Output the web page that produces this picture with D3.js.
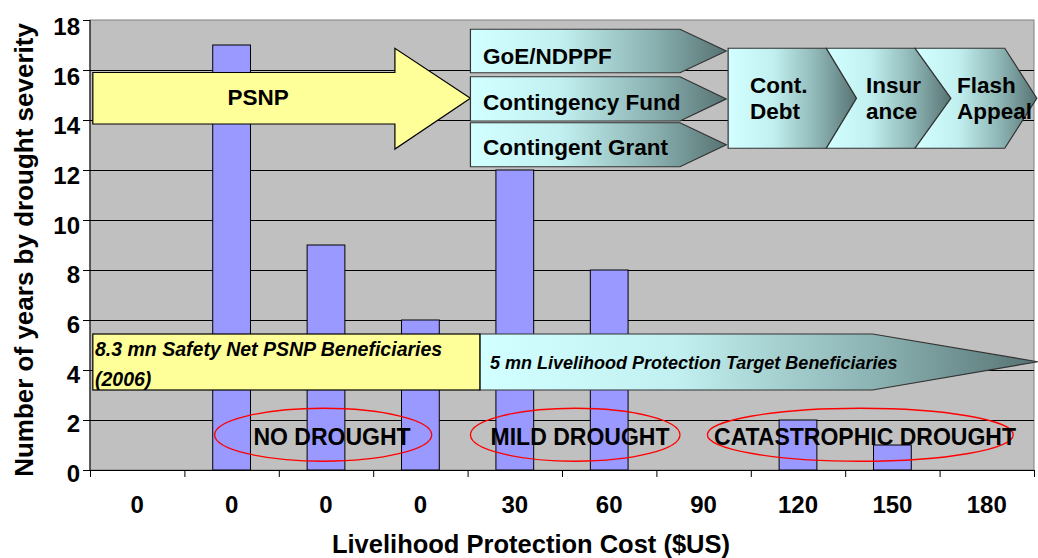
<!DOCTYPE html>
<html><head><meta charset="utf-8">
<script src="https://cdn.jsdelivr.net/npm/d3@7"></script>
<style>
html,body{margin:0;padding:0;background:#fff;}
text{font-family:"Liberation Sans",Arial,sans-serif;font-weight:bold;fill:#000;}
</style></head>
<body>
<svg id="chart" width="1038" height="558"></svg>
<script>
// ---- data ----
const categories = ["0","0","0","0","30","60","90","120","150","180"];
const yearsByDrought = [0,17,9,6,12,8,0,2,1,0];
const yTicks = [0,2,4,6,8,10,12,14,16,18];
const yTitle = "Number of years by drought severity";
const xTitle = "Livelihood Protection Cost ($US)";
const flowLabels = ["GoE/NDPPF","Contingency Fund","Contingent Grant"];
const chevronLabels = [["Cont.","Debt"],["Insur","ance"],["Flash","Appeal"]];
const severityLabels = ["NO DROUGHT","MILD DROUGHT","CATASTROPHIC DROUGHT"];

const svg = d3.select("#chart");
const L=90,R=1034,T=20,B=470;
const x = d3.scaleBand().domain(d3.range(categories.length)).range([L,R]).padding(0);
const xu = d3.scaleLinear().domain([0,categories.length]).range([L,R]); // category units
const y = d3.scaleLinear().domain([0,18]).range([B,T]);

// defs / gradients
const defs = svg.append("defs");
function grad(id){
  const g = defs.append("linearGradient").attr("id",id).attr("x1","0").attr("x2","1").attr("y1","0").attr("y2","0");
  [[0,"#d2ffff"],[0.35,"#c2f0f0"],[0.7,"#8db4b4"],[1,"#577373"]].forEach(s=>g.append("stop").attr("offset",s[0]).attr("stop-color",s[1]));
}
grad("cy");

// plot background
svg.append("rect").attr("x",L).attr("y",T).attr("width",R-L).attr("height",B-T).attr("fill","#c0c0c0").attr("stroke","#808080").attr("stroke-width",1);

// gridlines
svg.append("g").selectAll("line").data(yTicks.filter(d=>d>0 && d<18)).join("line")
  .attr("x1",L).attr("x2",R).attr("y1",d=>y(d)+0.5).attr("y2",d=>y(d)+0.5).attr("stroke","#000").attr("stroke-width",1);

// bars
const bw = x.bandwidth()*0.4;
svg.append("g").selectAll("rect").data(yearsByDrought).join("rect")
  .attr("x",(d,i)=>x(i)+(x.bandwidth()-bw)/2).attr("width",bw)
  .attr("y",d=>y(d)).attr("height",d=>y(0)-y(d))
  .attr("fill","#9999ff").attr("stroke","#000").attr("stroke-width",1)
  .style("display",d=>d>0?null:"none");

// axes
const yAxis = svg.append("g").attr("transform",`translate(${L},0)`);
yAxis.append("line").attr("x1",0).attr("x2",0).attr("y1",T).attr("y2",B).attr("stroke","#000");
yAxis.selectAll(".t").data(yTicks).join("line").attr("x1",-7).attr("x2",0).attr("y1",d=>y(d)+0.5).attr("y2",d=>y(d)+0.5).attr("stroke","#000");
yAxis.selectAll("text").data(yTicks).join("text").attr("x",-10).attr("y",d=>y(d)+12 + (d/18)*3)
  .attr("text-anchor","end").style("font-size","24px").text(d=>d);

const xAxis = svg.append("g");
xAxis.append("line").attr("x1",L).attr("x2",R).attr("y1",B+0.5).attr("y2",B+0.5).attr("stroke","#000");
xAxis.selectAll("line.t").data(d3.range(categories.length+1)).join("line").attr("class","t")
  .attr("x1",d=>xu(d)+0.5).attr("x2",d=>xu(d)+0.5).attr("y1",B).attr("y2",B+7).attr("stroke","#000");
xAxis.selectAll("text").data(categories).join("text")
  .attr("x",(d,i)=>x(i)+x.bandwidth()/2).attr("y",513).attr("text-anchor","middle").style("font-size","24px").text(d=>d);

svg.append("text").attr("transform",`translate(33,${(T+B)/2+5}) rotate(-90)`).attr("text-anchor","middle").style("font-size","26px").text(yTitle);
svg.append("text").attr("x",531).attr("y",553).attr("text-anchor","middle").style("font-size","25.5px").text(xTitle);

// ---- annotations (in category units / data units) ----
const P = pts => pts.map(p=>[xu(p[0]),y(p[1])]);
const line = d3.line();
const ann = svg.append("g");

// PSNP arrow
ann.append("path").attr("d",line(P([[0.03,15.9],[3.23,15.9],[3.23,16.87],[4.03,14.87],[3.23,12.84],[3.23,13.84],[0.03,13.84]]))+"Z")
  .attr("fill","#ffff99").attr("stroke","#000").attr("stroke-width",1.2);
ann.append("text").attr("x",xu(1.78)).attr("y",105).attr("text-anchor","middle").style("font-size","22.5px").text("PSNP");

// three flow arrows
const flowRows = [[17.63,15.89],[15.73,13.96],[13.89,12.13]];
const flowBase = [64,110,155];
flowRows.forEach((r,i)=>{
  const mid=(r[0]+r[1])/2;
  ann.append("path").attr("d",line(P([[4.03,r[0]],[6.25,r[0]],[6.74,mid],[6.25,r[1]],[4.03,r[1]]]))+"Z")
    .attr("fill","url(#cy)").attr("stroke","#333").attr("stroke-width",1.2);
  ann.append("text").attr("x",483).attr("y",flowBase[i]).style("font-size","22.5px").text(flowLabels[i]);
});

// chevrons
const cTop=16.87,cBot=12.87,cMid=14.87;
const chev = [
  [[6.76,cTop],[7.80,cTop],[8.12,cMid],[7.80,cBot],[6.76,cBot]],
  [[7.80,cTop],[8.74,cTop],[9.12,cMid],[8.74,cBot],[7.80,cBot],[8.12,cMid]],
  [[8.74,cTop],[9.69,cTop],[10.03,cMid],[9.69,cBot],[8.74,cBot],[9.12,cMid]]
];
const chevTextX=[750,866,957];
chev.forEach((c,i)=>{
  ann.append("path").attr("d",line(P(c))+"Z").attr("fill","url(#cy)").attr("stroke","#333").attr("stroke-width",1.2);
  ann.append("text").attr("x",chevTextX[i]).attr("y",93).style("font-size","22.5px").text(chevronLabels[i][0]);
  ann.append("text").attr("x",chevTextX[i]).attr("y",119).style("font-size","22.5px").text(chevronLabels[i][1]);
});

// bottom band
ann.append("path").attr("d",line(P([[4.13,5.44],[8.29,5.44],[10.04,4.33],[8.29,3.2],[4.13,3.2]]))+"Z")
  .attr("fill","url(#cy)").attr("stroke","#333").attr("stroke-width",1.2);
ann.append("rect").attr("x",xu(0.03)).attr("y",y(5.44)).attr("width",xu(4.13)-xu(0.03)).attr("height",y(3.2)-y(5.44))
  .attr("fill","#ffff99").attr("stroke","#000").attr("stroke-width",1.2);
ann.append("text").attr("x",95).attr("y",356).style("font-size","19.5px").style("font-style","italic").text("8.3 mn Safety Net PSNP Beneficiaries");
ann.append("text").attr("x",95).attr("y",386).style("font-size","19.5px").style("font-style","italic").text("(2006)");
ann.append("text").attr("x",490).attr("y",369).style("font-size","18px").style("font-style","italic").text("5 mn Livelihood Protection Target Beneficiaries");

// drought ellipses
const ell = [[2.47,1.15],[5.14,1.11],[8.16,1.62]];
const ellText = [332,580,865];
ell.forEach((e,i)=>{
  ann.append("ellipse").attr("cx",xu(e[0])).attr("cy",y(1.41)).attr("rx",xu(e[1])-xu(0)).attr("ry",y(0)-y(1.06))
    .attr("fill","none").attr("stroke","#ff0000").attr("stroke-width",1.3);
  ann.append("text").attr("x",ellText[i]).attr("y",445).attr("text-anchor","middle").style("font-size","23px").text(severityLabels[i]);
});
</script>
</body></html>
